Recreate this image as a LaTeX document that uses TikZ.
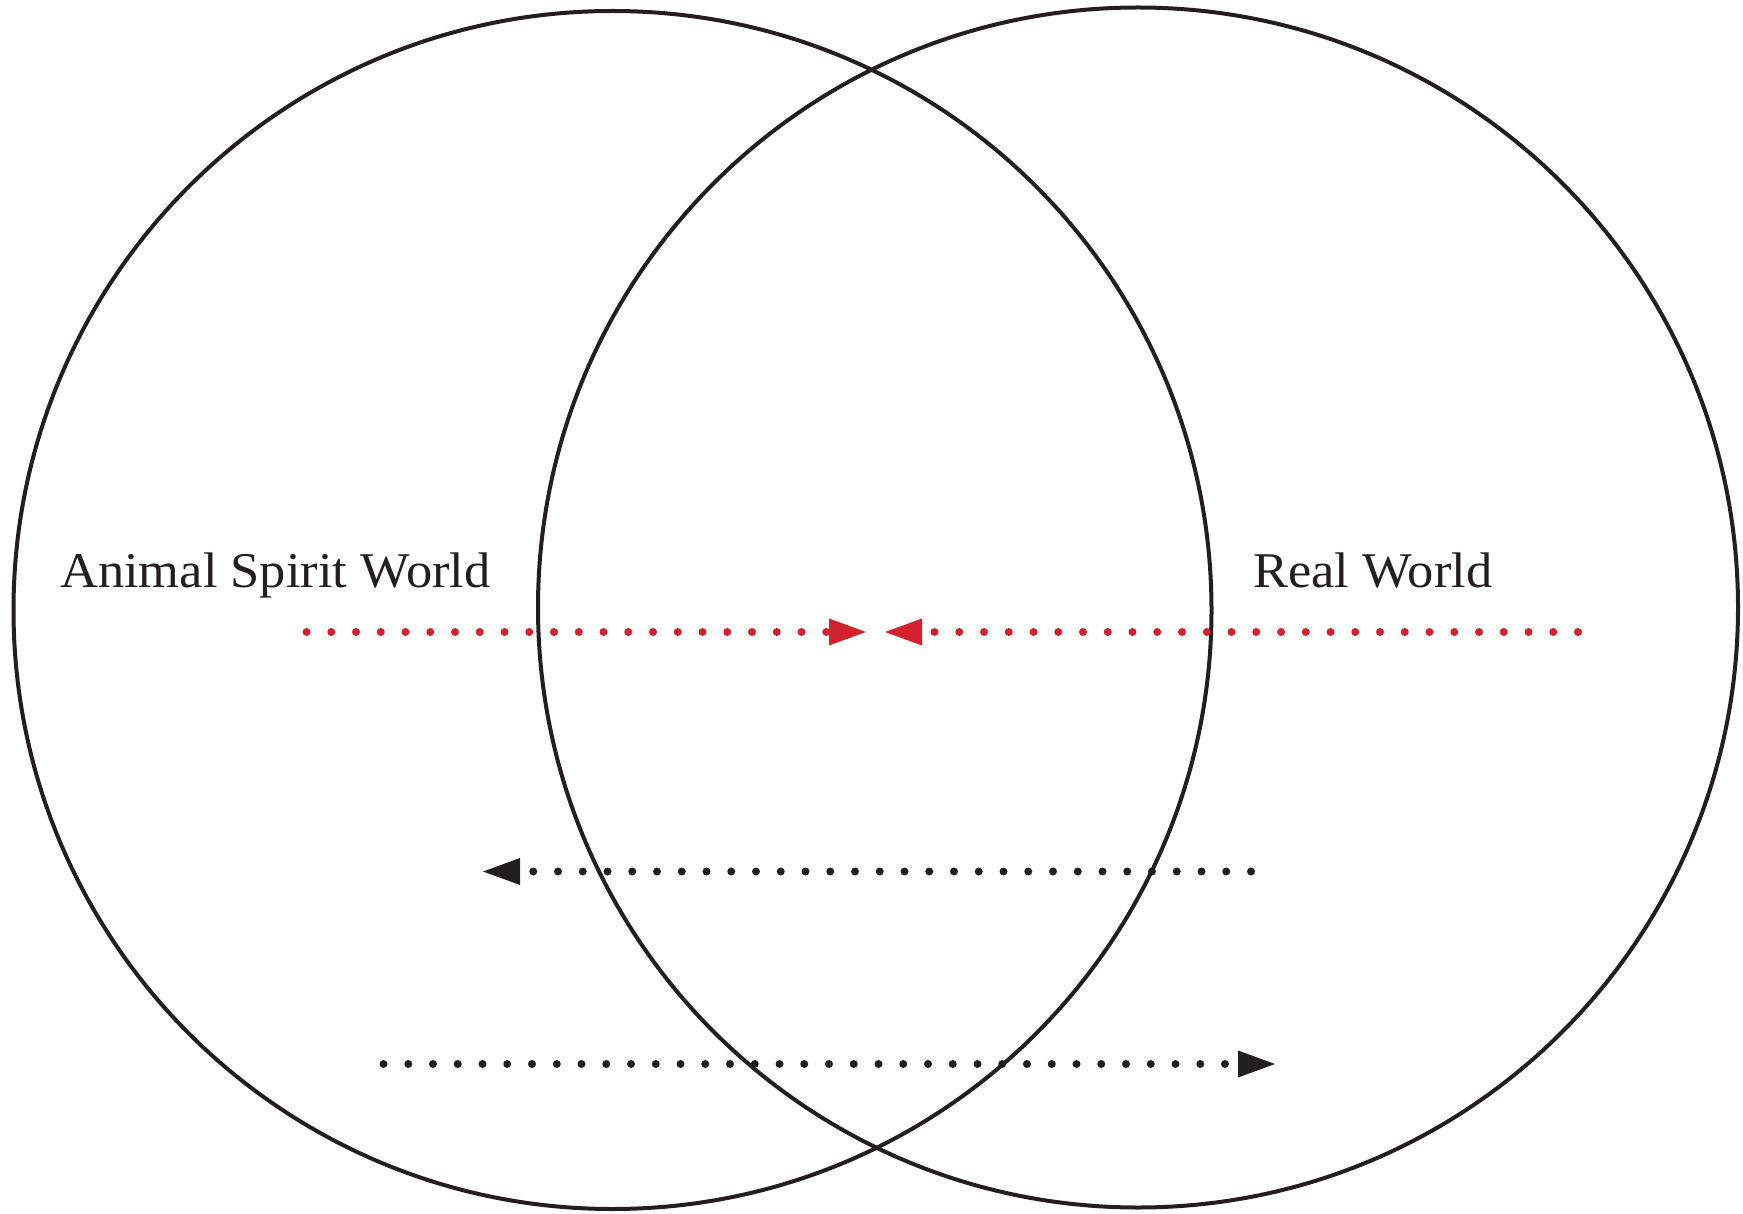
\documentclass[tikz,border=0pt]{standalone}
\usepackage{fontspec}
\setmainfont[FakeStretch=1.05]{Liberation Serif}
\usetikzlibrary{arrows.meta}
\definecolor{ink}{RGB}{35,31,32}
\definecolor{redink}{RGB}{212,34,44}
\begin{document}
\begin{tikzpicture}[x=1pt,y=-1pt,
  ring/.style={draw=ink,line width=4pt},
  lbl/.style={anchor=base west,inner sep=0pt,text=ink,font=\fontsize{50}{60}\selectfont},
  dotline/.style={line width=8pt,line cap=round,dash pattern=on 0pt off 24.75pt},
  redarrow/.style={dotline,draw=redink,-{Triangle[length=37pt,width=27pt,line width=0pt,fill=redink]}},
  blackarrow/.style={dotline,draw=ink,-{Triangle[length=37pt,width=27pt,line width=0pt,fill=ink]}}]
\useasboundingbox (0,0) rectangle (1743,1214);
% circles
\draw[ring] (612.5,610) circle[radius=599];
\draw[ring] (1138,607.5) circle[radius=600];
% labels
\node[lbl] (asw) at (60,587) {Animal Spirit World};
\node[lbl] (rw) at (1253,587) {Real World};
% coordinates
\coordinate (r1s) at (306.5,632);
\coordinate (r1e) at (866,632);
\coordinate (r2s) at (1578,632);
\coordinate (r2e) at (885,632);
\coordinate (b1s) at (1251,871.5);
\coordinate (b1e) at (483,871.5);
\coordinate (b2s) at (383.5,1064);
\coordinate (b2e) at (1275,1064);
% arrows
\draw[redarrow] (r1s) -- (r1e);
\draw[redarrow] (r2s) -- (r2e);
\draw[blackarrow] (b1s) -- (b1e);
\draw[blackarrow] (b2s) -- (b2e);
\end{tikzpicture}
\end{document}
